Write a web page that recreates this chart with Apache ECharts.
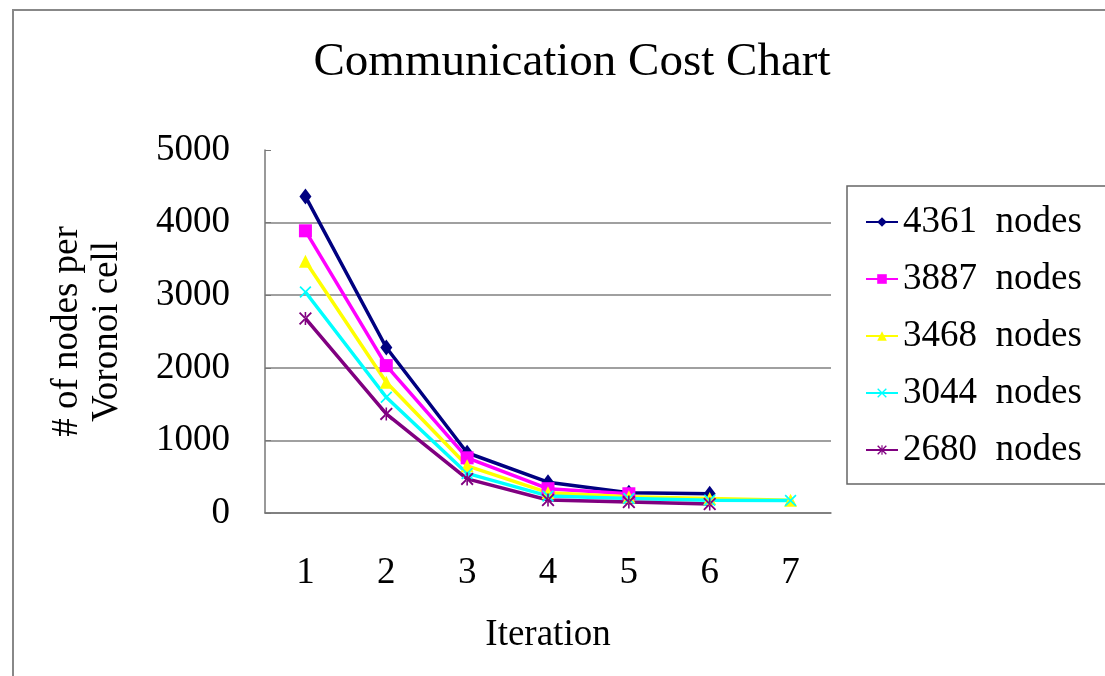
<!DOCTYPE html>
<html>
<head>
<meta charset="utf-8">
<script src="https://cdn.jsdelivr.net/npm/echarts@6/dist/echarts.min.js"></script>
<style>
html, body { margin: 0; padding: 0; background: #fff; }
#frame { position: absolute; left: 12px; top: 9px; width: 1200px; height: 800px;
	border-left: 2px solid #888; border-top: 2px solid #888; }
#main { position: absolute; left: 0; top: 0; width: 1105px; height: 676px; }
</style>
</head>
<body>
<div id="frame"></div>
<div id="main"></div>
<script>
// iterations on the x axis
const iterations = ['1', '2', '3', '4', '5', '6', '7']
const seriesNames = ['4361 nodes', '3887 nodes', '3468 nodes', '3044 nodes', '2680 nodes']
// nodes per voronoi cell, one list per network size
const nodes4361 = [4361, 2280, 830, 425, 280, 265]
const nodes3887 = [3887, 2030, 760, 335, 265]
const nodes3468 = [3468, 1800, 650, 280, 225, 200, 175]
const nodes3044 = [3044, 1595, 545, 235, 200, 175, 172]
const nodes2680 = [2680, 1365, 470, 180, 150, 125]

const serif = '"Liberation Serif", "Times New Roman", serif'
const xMark = 'path://M0,1L1,0L5,4L9,0L10,1L6,5L10,9L9,10L5,6L1,10L0,9L4,5Z'
const starMark = 'path://M0,1L1,0L10,9L9,10Z M10,1L9,0L0,9L1,10Z M4.4,0L5.6,0L5.6,10L4.4,10Z'

function makeSeries(name, data, color, symbol, size) {
	return {
		name: name,
		type: 'line',
		data: data,
		symbol: symbol,
		symbolSize: size,
		showAllSymbol: true,
		lineStyle: { color: color, width: 3.5 },
		itemStyle: { color: color },
		emphasis: { disabled: true }
	}
}

let myChart = echarts.init(document.getElementById('main'))
let option = {
	animation: false,
	backgroundColor: 'transparent',
	title: {
		text: 'Communication Cost Chart',
		left: 567,
		top: 34,
		textAlign: 'center',
		textStyle: { fontFamily: serif, fontSize: 47, fontWeight: 'normal', color: '#000' }
	},
	legend: {
		orient: 'vertical',
		left: 847,
		top: 186,
		padding: [16, 80, 14, 18],
		borderColor: '#666',
		borderWidth: 1.5,
		itemWidth: 32,
		itemHeight: 12,
		itemGap: 17,
		formatter: function(name) { return name.replace(' ', '  ') },
		textStyle: { fontFamily: serif, fontSize: 37, color: '#000', lineHeight: 40 },
		data: seriesNames
	},
	grid: {
		left: 265,
		right: 274,
		top: 150,
		bottom: 163,
		containLabel: false
	},
	xAxis: {
		type: 'category',
		data: iterations,
		boundaryGap: true,
		name: 'Iteration',
		nameLocation: 'middle',
		nameGap: 104,
		nameTextStyle: { fontFamily: serif, fontSize: 37, color: '#000' },
		axisLine: { lineStyle: { color: '#777', width: 1.5 } },
		axisTick: { inside: true, length: 13, lineStyle: { color: '#555' } },
		axisLabel: { margin: 42, fontFamily: serif, fontSize: 37, color: '#000' }
	},
	yAxis: {
		type: 'value',
		min: 0,
		max: 5000,
		interval: 1000,
		name: '# of nodes per\nVoronoi cell',
		nameLocation: 'middle',
		nameRotate: 90,
		nameGap: 138,
		nameTextStyle: { fontFamily: serif, fontSize: 37, color: '#000', lineHeight: 40 },
		axisLine: { show: true, lineStyle: { color: '#777', width: 1.5 } },
		axisTick: { show: true, inside: true, length: 6, lineStyle: { color: '#777' } },
		axisLabel: {
			margin: 35, fontFamily: serif, fontSize: 37, color: '#000',
			formatter: function(v) { return String(v) }
		},
		splitLine: { show: true, showMaxLine: false, lineStyle: { color: '#808080', width: 1.5 } }
	},
	series: [
		makeSeries(seriesNames[0], nodes4361, '#000080', 'diamond', [12, 16]),
		makeSeries(seriesNames[1], nodes3887, '#ff00ff', 'rect', 13),
		makeSeries(seriesNames[2], nodes3468, '#ffff00', 'triangle', 13),
		makeSeries(seriesNames[3], nodes3044, '#00ffff', xMark, 12),
		makeSeries(seriesNames[4], nodes2680, '#800080', starMark, 13)
	]
}
myChart.setOption(option)
</script>
</body>
</html>
